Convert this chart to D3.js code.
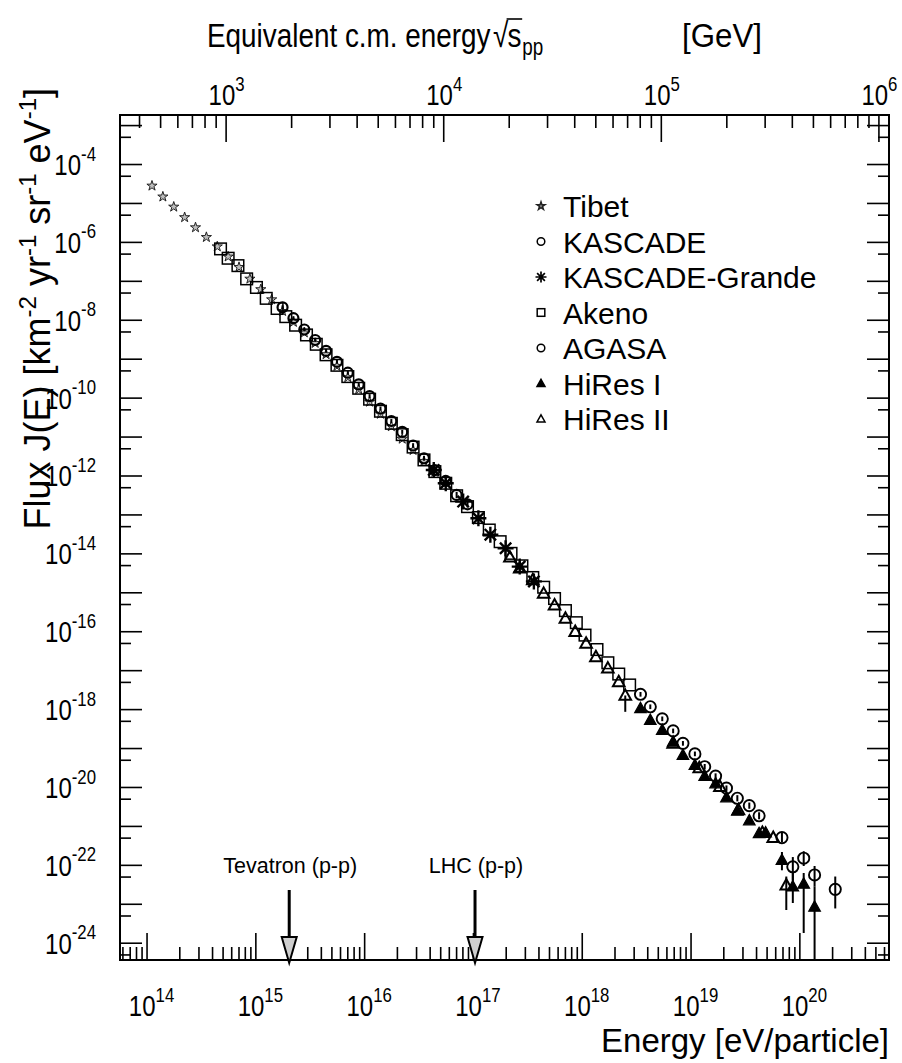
<!DOCTYPE html>
<html>
<head>
<meta charset="utf-8">
<script src="https://cdn.jsdelivr.net/npm/d3@7"></script>
<style>
  body { margin: 0; background: #fff; }
  svg text { font-family: "Liberation Sans", Arial, Helvetica, sans-serif; fill: #000; }
</style>
</head>
<body>
<svg id="chart" width="902" height="1063"></svg>
<script>
// ---- Cosmic-ray flux measurements: log10(E / eV) and log10(J / km^-2 yr^-1 sr^-1 eV^-1)
const tibetLogE = [14.05,14.15,14.25,14.35,14.45,14.55,14.65,14.75,14.85,14.95,15.05,15.15,15.25,15.35,15.45,15.55,15.65,15.75,15.85,15.95,16.05,16.15,16.25,16.35,16.45,16.55,16.65];
const tibetLogJ = [-4.56,-4.84,-5.10,-5.37,-5.63,-5.88,-6.12,-6.38,-6.65,-6.95,-7.22,-7.48,-7.78,-8.06,-8.33,-8.60,-8.89,-9.19,-9.48,-9.79,-10.11,-10.42,-10.74,-11.06,-11.35,-11.63,-11.91];

const kascadeLogE = [15.25,15.35,15.45,15.55,15.65,15.75,15.85,15.95,16.05,16.15,16.25,16.35,16.45,16.55,16.65,16.75,16.85,16.95];
const kascadeLogJ = [-7.68,-7.96,-8.25,-8.52,-8.80,-9.08,-9.36,-9.66,-9.96,-10.28,-10.60,-10.88,-11.23,-11.56,-11.86,-12.14,-12.50,-12.74];
const kascadeErr  = [0.05,0.05,0.05,0.05,0.05,0.05,0.05,0.05,0.05,0.05,0.05,0.05,0.06,0.06,0.07,0.07,0.08,0.08];

const grandeLogE = [16.64,16.75,16.91,17.05,17.16,17.30,17.43,17.56];
const grandeLogJ = [-11.86,-12.20,-12.67,-13.10,-13.52,-13.87,-14.34,-14.72];

const akenoLogE = [14.68,14.75,14.84,14.92,15.01,15.10,15.20,15.28,15.37,15.47,15.56,15.65,15.75,15.85,15.95,16.05,16.15,16.25,16.35,16.45,16.55,16.65,16.75,16.85,16.95,17.05,17.15,17.25,17.35,17.45,17.55,17.65,17.75,17.85,17.95,18.03,18.14,18.24,18.34,18.44];
const akenoLogJ = [-6.18,-6.42,-6.61,-6.95,-7.17,-7.45,-7.71,-7.92,-8.14,-8.39,-8.63,-8.90,-9.17,-9.46,-9.76,-10.04,-10.35,-10.66,-10.95,-11.27,-11.60,-11.90,-12.20,-12.52,-12.80,-13.08,-13.40,-13.70,-14.00,-14.32,-14.62,-14.87,-15.16,-15.47,-15.78,-16.10,-16.47,-16.81,-17.10,-17.38];

const agasaLogE  = [18.54,18.63,18.74,18.84,18.93,19.04,19.13,19.23,19.33,19.43,19.54,19.63,19.84,19.94,20.04,20.14,20.33];
const agasaLogJ  = [-17.62,-17.94,-18.25,-18.56,-18.88,-19.15,-19.48,-19.72,-20.03,-20.29,-20.48,-20.74,-21.30,-22.05,-21.83,-22.26,-22.63];
const agasaErrHi = [-17.56,-17.88,-18.19,-18.50,-18.82,-19.09,-19.41,-19.65,-19.96,-20.21,-20.40,-20.65,-21.18,-21.80,-21.65,-22.03,-22.30];
const agasaErrLo = [-17.68,-18.00,-18.31,-18.62,-18.94,-19.21,-19.55,-19.79,-20.10,-20.37,-20.56,-20.83,-21.42,-22.40,-22.03,-22.55,-23.12];

const hires1LogE  = [18.54,18.63,18.74,18.84,18.93,19.04,19.13,19.23,19.33,19.43,19.54,19.63,19.69,19.84,19.94,20.04,20.14];
const hires1LogJ  = [-17.98,-18.28,-18.54,-18.84,-19.18,-19.44,-19.72,-19.91,-20.27,-20.61,-20.86,-21.19,-21.17,-21.88,-22.56,-22.49,-23.08];
const hires1ErrHi = [null,null,null,null,null,null,null,null,null,null,null,null,null,-21.67,-22.21,-22.21,-22.55];
const hires1ErrLo = [null,null,null,null,null,null,null,null,null,null,null,null,null,-22.14,-22.98,-23.75,-24.60];

const hires2LogE  = [17.34,17.43,17.55,17.65,17.75,17.85,17.94,18.04,18.13,18.24,18.34,18.40,18.84,19.08,19.27,19.44,19.66,19.76,19.88];
const hires2LogJ  = [-14.10,-14.38,-14.68,-15.03,-15.33,-15.67,-16.01,-16.31,-16.66,-16.95,-17.30,-17.65,-18.88,-19.51,-19.99,-20.59,-21.17,-21.30,-22.52];
const hires2ErrHi = [null,null,null,null,null,null,null,null,null,null,null,-17.65,null,null,null,null,null,null,-22.30];
const hires2ErrLo = [null,null,null,null,null,null,null,null,null,null,null,-18.07,null,null,null,null,null,null,-23.16];

// Legend entries and marker kinds
const legendNames = ["Tibet","KASCADE","KASCADE-Grande","Akeno","AGASA","HiRes I","HiRes II"];
const legendKinds = ["star","circle","asterisk","square","circle","triFilled","triOpen"];

// Collider reference energies, converted to the equivalent fixed-target energy
const colliderNames = ["Tevatron (p-p)","LHC (p-p)"];
const colliderSqrtS = [1960, 14000]; // GeV

// Axis label exponents
const bottomExps = [14,15,16,17,18,19,20];
const topExps = [3,4,5,6];
const leftExps = [-4,-6,-8,-10,-12,-14,-16,-18,-20,-22,-24];

// ---- Layout
const svg = d3.select("#chart");
const F = { left: 120, right: 889, top: 115, bottom: 960 };
const P = v => Math.pow(10, v);
const MP = 0.938; // proton mass, GeV
const sqrtS = E => Math.sqrt(2 * MP * E / 1e9);          // E in eV -> sqrt(s) in GeV
const eFromSqrtS = s => s * s / (2 * MP) * 1e9;          // sqrt(s) in GeV -> E in eV

const x = d3.scaleLog().domain([P(13.756), P(20.824)]).range([F.left, F.right]);
const y = d3.scaleLog().domain([P(-24.444), P(-2.741)]).range([F.bottom, F.top]);
const xTop = d3.scaleLog().domain(x.domain().map(sqrtS)).range(x.range());

// ---- Ticks
function decadeTicks(scale, kMin, kMax) {
  const [a, b] = scale.domain();
  const lo = Math.min(a, b), hi = Math.max(a, b);
  const majors = [], minors = [];
  for (let n = Math.floor(Math.log10(lo)) - 1; n <= Math.ceil(Math.log10(hi)); n++) {
    const m = P(n);
    if (m >= lo && m <= hi) majors.push(m);
    for (let k = kMin; k <= kMax; k++) {
      const v = k * m;
      if (v >= lo && v <= hi) minors.push(v);
    }
  }
  return { majors, minors };
}

function tickLayer(axisFn, scale, values, size, transform) {
  const g = svg.append("g").attr("transform", transform)
    .call(axisFn(scale).tickValues(values).tickSize(size).tickFormat(""));
  g.select(".domain").remove();
  g.selectAll(".tick line").attr("stroke", "#000").attr("stroke-width", 1.6);
  return g;
}

const bt = decadeTicks(x, 2, 9);
tickLayer(d3.axisTop, x, bt.majors, 27, `translate(0,${F.bottom})`);
tickLayer(d3.axisTop, x, bt.minors, 13, `translate(0,${F.bottom})`);

const tt = decadeTicks(xTop, 2, 9);
tickLayer(d3.axisBottom, xTop, tt.majors, 27, `translate(0,${F.top})`);
tickLayer(d3.axisBottom, xTop, tt.minors, 13, `translate(0,${F.top})`);

const yt = decadeTicks(y, 5, 5);
tickLayer(d3.axisRight, y, yt.majors, 22, `translate(${F.left},0)`);
tickLayer(d3.axisRight, y, yt.minors, 11, `translate(${F.left},0)`);
tickLayer(d3.axisLeft, y, yt.majors, 22, `translate(${F.right},0)`);
tickLayer(d3.axisLeft, y, yt.minors, 11, `translate(${F.right},0)`);

// Frame
svg.append("rect").attr("x", F.left).attr("y", F.top)
  .attr("width", F.right - F.left).attr("height", F.bottom - F.top)
  .attr("fill", "none").attr("stroke", "#000").attr("stroke-width", 2);

// ---- Power-of-ten labels (narrow face, like the printed figure)
function powLabel(px, py, exp, size, anchor) {
  const t = svg.append("text").attr("transform", `translate(${px},${py}) scale(0.8,1)`)
    .attr("font-size", size).attr("text-anchor", anchor);
  t.append("tspan").text("10");
  t.append("tspan").attr("dy", -size * 0.48).attr("font-size", size * 0.7).text(exp);
  return t;
}
bottomExps.forEach(e => powLabel(x(P(e)) + 5, 1016, e, 30, "middle"));
topExps.forEach(e => powLabel(xTop(P(e)) + 1, 105, e, 30, "middle"));
leftExps.forEach(e => powLabel(96, y(P(e)) + 11, e, 30, "end"));

// Axis titles
svg.append("text").attr("x", F.right).attr("y", 1052).attr("font-size", 33)
  .attr("text-anchor", "end").text("Energy [eV/particle]");

const yTitle = svg.append("text").attr("transform", "translate(50,88) rotate(-90)")
  .attr("font-size", 36).attr("text-anchor", "end");
[["Flux J(E) [km", 0], ["-2", 1], [" yr", 0], ["-1", 1], [" sr", 0], ["-1", 1], [" eV", 0], ["-1", 1], ["]", 0]]
  .forEach(([s, sup], i) => {
    const ts = yTitle.append("tspan").text(s);
    if (sup) ts.attr("font-size", 24).attr("dy", -14);
    else if (i > 0) ts.attr("dy", 14);
  });

// Top title: Equivalent c.m. energy sqrt(s_pp) [GeV]
const tg = svg.append("g").attr("transform", "translate(207,0) scale(0.82,1)");
const tBase = 47;
let cx = 0;
const t1 = tg.append("text").attr("x", cx).attr("y", tBase).attr("font-size", 34).text("Equivalent c.m. energy");
cx += t1.node().getComputedTextLength() + 3;
const t2 = tg.append("text").attr("x", cx).attr("y", tBase).attr("font-size", 34).text("\u221A");
cx += t2.node().getComputedTextLength() - 1;
const t3 = tg.append("text").attr("x", cx).attr("y", tBase).attr("font-size", 34).text("s");
const sw = t3.node().getComputedTextLength();
tg.append("line").attr("x1", cx - 1).attr("x2", cx + sw + 1).attr("y1", tBase - 28).attr("y2", tBase - 28)
  .attr("stroke", "#000").attr("stroke-width", 1.6);
cx += sw;
tg.append("text").attr("x", cx + 1).attr("y", tBase + 8).attr("font-size", 23).text("pp");
svg.append("text").attr("transform", `translate(682,${tBase}) scale(0.92,1)`)
  .attr("font-size", 34).text("[GeV]");

// ---- Markers
function markerPath(kind, s) {
  if (kind === "asterisk") {
    let d = "";
    [0, 45, 90, 135].forEach(a => {
      const r = a * Math.PI / 180, dx = Math.cos(r) * s, dy = Math.sin(r) * s;
      d += `M${-dx},${-dy}L${dx},${dy}`;
    });
    return d;
  }
  return `M0,${-s * 1.05}L${s},${s * 0.75}L${-s},${s * 0.75}Z`;
}

function addMarker(sel, kind, s, o) {
  o = o || {};
  if (kind === "star") {
    sel.append("path").attr("d", d3.symbol(d3.symbolStar, s * s * 1.1)())
      .attr("fill", o.fill || "#bdbdbd").attr("stroke", o.stroke || "#222").attr("stroke-width", o.sw || 1);
  } else if (kind === "circle") {
    sel.append("circle").attr("r", s).attr("fill", "none")
      .attr("stroke", "#000").attr("stroke-width", o.sw || 2);
  } else if (kind === "square") {
    sel.append("rect").attr("x", -s).attr("y", -s).attr("width", 2 * s).attr("height", 2 * s)
      .attr("fill", "none").attr("stroke", "#000").attr("stroke-width", o.sw || 1.5);
  } else if (kind === "asterisk") {
    sel.append("path").attr("d", markerPath(kind, s)).attr("fill", "none")
      .attr("stroke", "#000").attr("stroke-width", o.sw || 2.2);
  } else {
    sel.append("path").attr("d", markerPath(kind, s))
      .attr("fill", kind === "triFilled" ? "#000" : "none")
      .attr("stroke", "#000").attr("stroke-width", o.sw || 1.8);
  }
}

function drawMarks(cls, logE, logJ, kind, opts) {
  const data = logE.map((e, i) => ({ e, j: logJ[i] }));
  const g = svg.append("g").attr("class", cls);
  const sel = g.selectAll("g.m").data(data).join("g").attr("class", "m")
    .attr("transform", d => `translate(${x(P(d.e))},${y(P(d.j))})`);
  addMarker(sel, kind, opts.size, opts);
  return g;
}

function drawErrors(logE, lo, hi) {
  const g = svg.append("g");
  logE.forEach((e, i) => {
    if (lo[i] == null || hi[i] == null) return;
    const y1 = Math.min(F.bottom, y(P(lo[i])));
    g.append("line").attr("x1", x(P(e))).attr("x2", x(P(e)))
      .attr("y1", y1).attr("y2", y(P(hi[i])))
      .attr("stroke", "#000").attr("stroke-width", 2);
  });
}

drawMarks("tibet", tibetLogE, tibetLogJ, "star", { size: 5.4 });
drawMarks("akeno", akenoLogE, akenoLogJ, "square", { size: 5.8, sw: 1.5 });
drawErrors(kascadeLogE, kascadeLogJ.map((v, i) => v - kascadeErr[i]), kascadeLogJ.map((v, i) => v + kascadeErr[i]));
drawMarks("kascade", kascadeLogE, kascadeLogJ, "circle", { size: 5, sw: 2.2 });
drawMarks("grande", grandeLogE, grandeLogJ, "asterisk", { size: 8, sw: 2.4 });
drawErrors(hires2LogE, hires2ErrLo, hires2ErrHi);
drawMarks("hires2", hires2LogE, hires2LogJ, "triOpen", { size: 5.8, sw: 2 });
drawErrors(agasaLogE, agasaErrLo, agasaErrHi);
drawMarks("agasa", agasaLogE, agasaLogJ, "circle", { size: 5.6, sw: 1.9 });
drawErrors(hires1LogE, hires1ErrLo, hires1ErrHi);
drawMarks("hires1", hires1LogE, hires1LogJ, "triFilled", { size: 5.8, sw: 1.2 });

// ---- Legend
const lg = svg.append("g");
const legendSizes = { star: 4.2, circle: 3.8, asterisk: 5.5, square: 3.8, triFilled: 4, triOpen: 4 };
legendNames.forEach((name, i) => {
  const cy = 206 + i * 35.5;
  const m = lg.append("g").attr("transform", `translate(541,${cy})`);
  const k = legendKinds[i];
  addMarker(m, k, legendSizes[k], { sw: k === "asterisk" ? 1.7 : 1.5, fill: "#999" });
  lg.append("text").attr("x", 563).attr("y", cy + 11).attr("font-size", 30).text(name);
});

// ---- Collider arrows
colliderNames.forEach((name, i) => {
  const ax = x(eFromSqrtS(colliderSqrtS[i]));
  const g = svg.append("g");
  g.append("text").attr("x", ax + 1).attr("y", 873).attr("font-size", 21.5)
    .attr("text-anchor", "middle").text(name);
  g.append("line").attr("x1", ax).attr("x2", ax).attr("y1", 890).attr("y2", 938)
    .attr("stroke", "#000").attr("stroke-width", 3);
  g.append("path").attr("d", `M${ax - 7.5},${937}L${ax + 7.5},${937}L${ax},${963}Z`)
    .attr("fill", "#cfcfcf").attr("stroke", "#000").attr("stroke-width", 2);
});
</script>
</body>
</html>
